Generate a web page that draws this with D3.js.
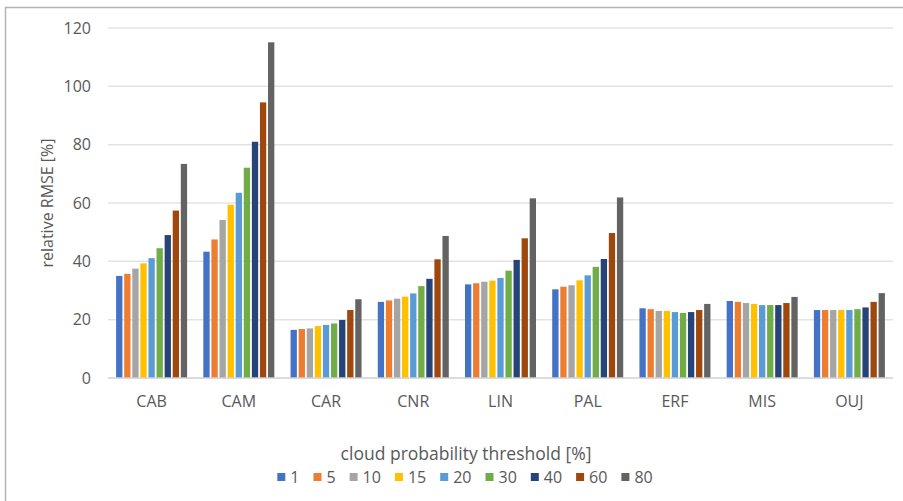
<!DOCTYPE html>
<meta charset="utf-8">
<style>
  body { margin: 0; background: #fff; }
  svg text { font-family: "Open Sans", sans-serif; fill: #595959; }
  .grid line { stroke: #e3e3e3; stroke-width: 1.5; }
</style>
<svg width="903" height="501"></svg>
<script src="https://d3js.org/d3.v7.min.js"></script>
<script>
  var sites = ["CAB", "CAM", "CAR", "CNR", "LIN", "PAL", "ERF", "MIS", "OUJ"];
  var thresholds = ["1", "5", "10", "15", "20", "30", "40", "60", "80"];
  var colors = ["#4472C4", "#ED7D31", "#A5A5A5", "#FFC000", "#5B9BD5", "#70AD47", "#264478", "#9E480E", "#636363"];
  var yTicks = [0, 20, 40, 60, 80, 100, 120];

  // relative RMSE [%] per site, one value per threshold
  var CAB = [35.0, 35.7, 37.5, 39.3, 41.1, 44.5, 49.0, 57.4, 73.4];
  var CAM = [43.3, 47.5, 54.2, 59.4, 63.5, 72.1, 81.0, 94.5, 115.1];
  var CAR = [16.5, 16.8, 17.0, 17.8, 18.2, 18.7, 19.9, 23.3, 27.0];
  var CNR = [26.1, 26.6, 27.2, 27.9, 29.0, 31.5, 34.0, 40.7, 48.7];
  var LIN = [32.1, 32.5, 33.0, 33.4, 34.3, 36.8, 40.5, 47.9, 61.6];
  var PAL = [30.4, 31.3, 31.8, 33.5, 35.2, 38.1, 40.8, 49.7, 61.9];
  var ERF = [23.9, 23.6, 23.0, 23.0, 22.6, 22.3, 22.6, 23.3, 25.4];
  var MIS = [26.4, 26.1, 25.7, 25.4, 25.0, 25.0, 25.0, 25.7, 27.8];
  var OUJ = [23.3, 23.3, 23.3, 23.3, 23.3, 23.6, 24.2, 26.1, 29.1];
  var values = [CAB, CAM, CAR, CNR, LIN, PAL, ERF, MIS, OUJ];

  var svg = d3.select("svg");

  // outer frame
  svg.append("rect")
    .attr("x", 5.5).attr("y", 7.5)
    .attr("width", 920).attr("height", 520)
    .attr("fill", "none")
    .attr("stroke", "#b4b4b4")
    .attr("stroke-width", 1.5);

  var plotLeft = 108, plotRight = 893, plotTop = 28, plotBottom = 378;

  var y = d3.scaleLinear().domain([0, 120]).range([plotBottom, plotTop]);
  var x0 = d3.scaleBand().domain(sites).range([plotLeft, plotRight]);
  var gw = x0.bandwidth();
  var x1 = d3.scaleBand().domain(thresholds)
    .range([(gw - 71) / 2, (gw + 71) / 2])
    .paddingInner(0.22);

  // gridlines
  svg.append("g").attr("class", "grid")
    .selectAll("line")
    .data(yTicks.slice(1))
    .enter().append("line")
    .attr("x1", plotLeft).attr("x2", plotRight)
    .attr("y1", function(d) { return y(d); })
    .attr("y2", function(d) { return y(d); });

  // y tick labels
  svg.append("g")
    .selectAll("text")
    .data(yTicks)
    .enter().append("text")
    .attr("x", 91)
    .attr("y", function(d) { return y(d); })
    .attr("dy", "0.35em")
    .attr("text-anchor", "end")
    .attr("font-size", "16px")
    .text(function(d) { return d; });

  svg.append("text")
    .attr("transform", "translate(47," + (plotTop + plotBottom) / 2 + ") rotate(-90)")
    .attr("text-anchor", "middle")
    .attr("dy", "0.35em")
    .attr("font-size", "16px")
    .text("relative RMSE [%]");

  // bars
  var groups = svg.append("g")
    .selectAll("g")
    .data(sites)
    .enter().append("g")
    .attr("transform", function(d) { return "translate(" + x0(d) + ",0)"; });

  groups.selectAll("rect")
    .data(function(d, i) {
      return values[i].map(function(v, j) { return { t: thresholds[j], v: v, c: colors[j] }; });
    })
    .enter().append("rect")
    .attr("x", function(d) { return x1(d.t); })
    .attr("width", x1.bandwidth())
    .attr("y", function(d) { return y(d.v); })
    .attr("height", function(d) { return plotBottom - y(d.v); })
    .attr("fill", function(d) { return d.c; });

  // baseline
  svg.append("line")
    .attr("x1", plotLeft).attr("x2", plotRight)
    .attr("y1", plotBottom).attr("y2", plotBottom)
    .attr("stroke", "#d0d0d0").attr("stroke-width", 1.5);

  // category labels
  svg.append("g")
    .selectAll("text")
    .data(sites)
    .enter().append("text")
    .attr("x", function(d) { return x0(d) + gw / 2; })
    .attr("y", 407)
    .attr("text-anchor", "middle")
    .attr("font-size", "16px")
    .text(function(d) { return d; });

  // legend
  svg.append("text")
    .attr("x", 466).attr("y", 460)
    .attr("text-anchor", "middle")
    .attr("font-size", "17.5px")
    .text("cloud probability threshold [%]");

  var legend = svg.append("g");
  var lx = 0;
  thresholds.forEach(function(t, i) {
    var item = legend.append("g").attr("transform", "translate(" + lx + ",0)");
    item.append("rect")
      .attr("x", 0).attr("y", -4)
      .attr("width", 8).attr("height", 8)
      .attr("fill", colors[i]);
    var tx = item.append("text")
      .attr("x", 13).attr("y", 0)
      .attr("dy", "0.35em")
      .attr("font-size", "16px")
      .text(t);
    lx += 13 + tx.node().getComputedTextLength() + 14;
  });
  var lw = lx - 14;
  legend.attr("transform", "translate(" + (465 - lw / 2) + ",477)");
</script>
